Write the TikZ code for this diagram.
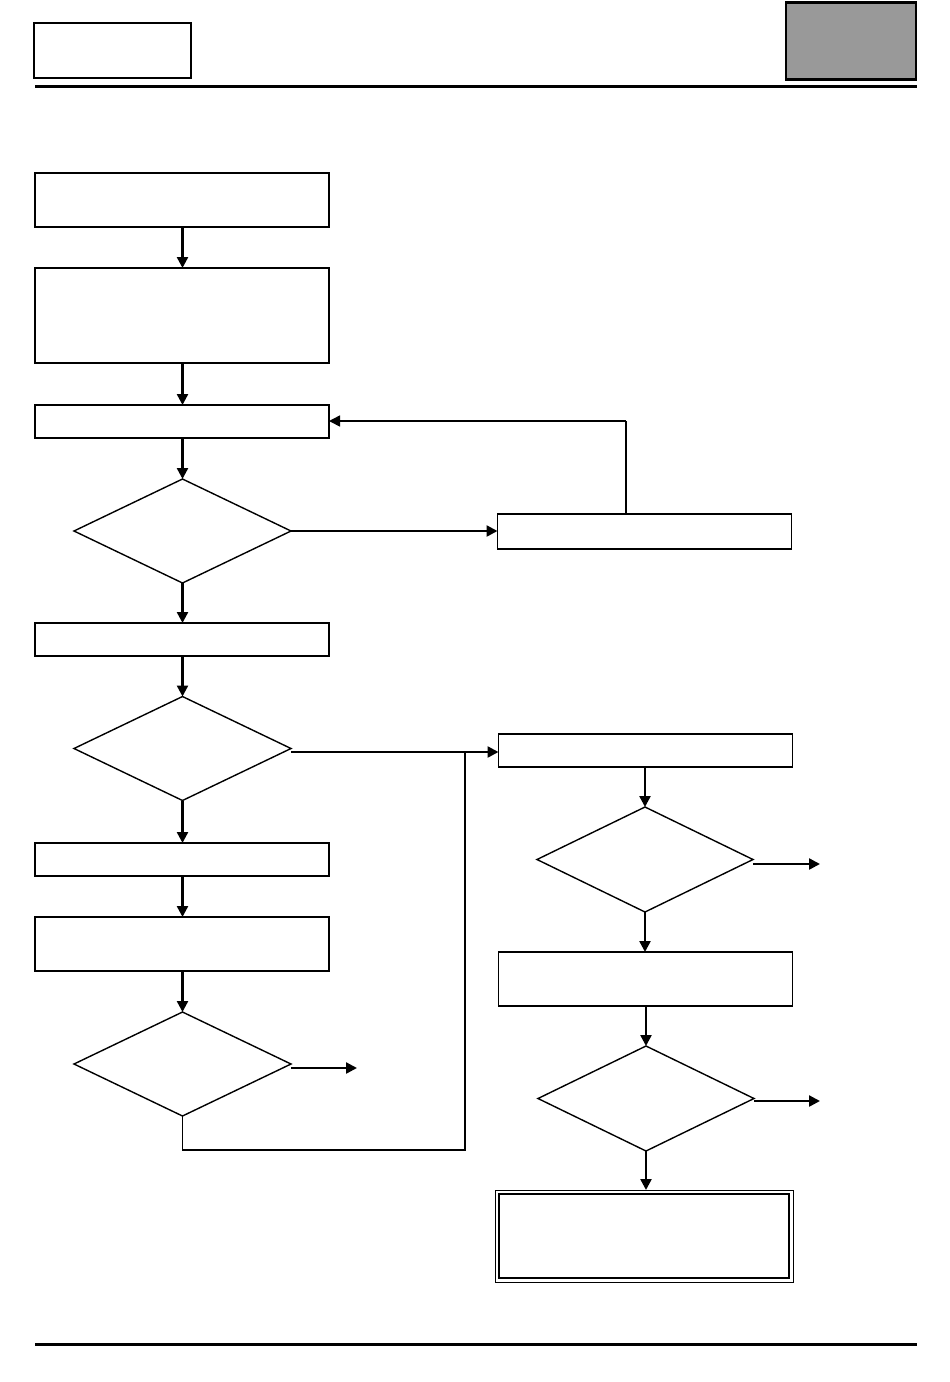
\documentclass[tikz,border=0pt]{standalone}
\usetikzlibrary{shapes.geometric,arrows.meta}
\begin{document}
\begin{tikzpicture}[x=1pt,y=-1pt,
  box/.style={draw,line width=1.4pt,inner sep=0pt,outer sep=0pt,minimum width=294pt},
  dia/.style={draw,diamond,line width=1.4pt,inner sep=0pt,outer sep=0pt,minimum width=217pt,minimum height=104pt},
  arr/.style={line width=2.4pt,-{Triangle[length=11pt,width=11pt]}},
  link/.style={line width=1.6pt}]
\useasboundingbox (0,0) rectangle (950,1382);
% header
\node[draw,line width=2pt,inner sep=0pt,minimum width=157pt,minimum height=55pt] (hl) at (112,50) {};
\node[draw,line width=2.6pt,fill={rgb,255:red,153;green,153;blue,153},inner sep=0pt,minimum width=130pt,minimum height=77pt] (hr) at (851,41) {};
\coordinate (t1) at (35,86); \coordinate (t2) at (917,86);
\draw[line width=3pt] (t1) -- (t2);
\coordinate (b1) at (35,1344); \coordinate (b2) at (917,1344);
\draw[line width=3pt] (b1) -- (b2);
% left column
\node[box,minimum height=54pt] (n1) at (182,200) {};
\node[box,minimum height=95pt] (n2) at (182,315.5) {};
\node[box,minimum height=33pt] (n3) at (182,421.5) {};
\node[dia] (d1) at (182.5,531) {};
\node[box,minimum height=33pt] (n4) at (182,639.5) {};
\node[dia] (d2) at (182.5,748.5) {};
\node[box,minimum height=33pt] (n5) at (182,859.5) {};
\node[box,minimum height=54pt] (n6) at (182,944) {};
\node[dia] (d5) at (182.5,1064) {};
% right column
\node[box,minimum height=35pt] (r1) at (644.5,531.5) {};
\node[box,minimum height=33pt] (r2) at (645.5,750.5) {};
\node[dia,minimum width=216pt,minimum height=105pt] (d3) at (645,859.5) {};
\node[box,minimum height=54pt] (r3) at (645.5,979) {};
\node[dia,minimum width=216pt,minimum height=105pt] (d4) at (646,1098.5) {};
\node[draw,line width=1pt,inner sep=0pt,outer sep=0pt,minimum width=298pt,minimum height=92pt] (fin) at (644,1236) {};
\draw[line width=2pt] ([xshift=4pt,yshift=-4pt]fin.north west) rectangle ([xshift=-4pt,yshift=4pt]fin.south east);
% coordinates
\coordinate (lp) at (626,421);
\coordinate (j) at (465,752);
\coordinate (jb) at (465,1150);
\coordinate (d5b) at (182.5,1150);
\coordinate (e5) at (357,1068);
\coordinate (e3) at (820,864);
\coordinate (e4) at (820,1101);
% connectors
\draw[arr] (n1.south -| d1.north) -- (n2.north -| d1.north);
\draw[arr] (n2.south -| d1.north) -- (n3.north -| d1.north);
\draw[arr] (n3.south -| d1.north) -- (d1.north);
\draw[arr] (d1.east) -- (r1.west |- d1.east);
\draw[link] (r1.north -| lp) -- (lp);
\draw[link,-{Triangle[length=11pt,width=11pt]}] (lp) -- (n3.east |- lp);
\draw[arr] (d1.south) -- (n4.north -| d1.south);
\draw[arr] (n4.south -| d2.north) -- (d2.north);
\draw[arr] (d2.south) -- (n5.north -| d2.south);
\draw[arr] (d2.east |- j) -- (r2.west |- j);
\draw[link] (j) -- (jb) -- (d5b) -- (d5.south);
\draw[arr] (n5.south -| d5.north) -- (n6.north -| d5.north);
\draw[arr] (n6.south -| d5.north) -- (d5.north);
\draw[arr] (d5.east |- e5) -- (e5);
\draw[arr] (r2.south -| d3.north) -- (d3.north);
\draw[arr] (d3.east |- e3) -- (e3);
\draw[arr] (d3.south) -- (r3.north -| d3.south);
\draw[arr] (r3.south -| d4.north) -- (d4.north);
\draw[arr] (d4.east |- e4) -- (e4);
\draw[arr] (d4.south) -- (fin.north -| d4.south);
\end{tikzpicture}
\end{document}
